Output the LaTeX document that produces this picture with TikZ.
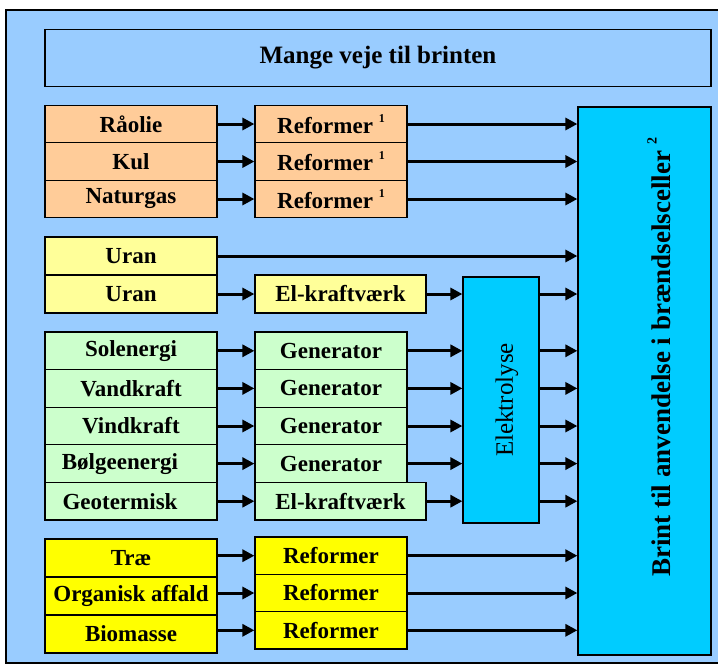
\documentclass[tikz,border=0pt]{standalone}
\usepackage{fontspec}
\setmainfont{Liberation Serif}
\usetikzlibrary{arrows.meta}
\definecolor{bgblue}{HTML}{99CCFF}
\definecolor{orng}{HTML}{FFCC99}
\definecolor{lyel}{HTML}{FFFF99}
\definecolor{lgrn}{HTML}{CCFFCC}
\definecolor{yel}{HTML}{FFFF00}
\definecolor{cyn}{HTML}{00CCFF}
\newcommand{\lblfont}{\fontsize{23}{27}\selectfont\bfseries}
\newcommand{\fnmark}[2]{\raisebox{#2}{\fontsize{#1}{#1}\selectfont\bfseries 1}}
\newcommand{\fnmarktwo}{\raisebox{14pt}{\fontsize{14}{14}\selectfont\bfseries 2}}
\begin{document}
\begin{tikzpicture}[x=1pt,y=-1pt,
  box/.style={draw=black, line width=1.2pt, inner sep=0pt, font=\lblfont},
  srcbox/.style={box, minimum width=172pt},
  procbox/.style={box, minimum width=152pt},
  widebox/.style={box, minimum width=171pt},
  arr/.style={line width=3pt, -{Triangle[length=12pt,width=12pt]}}]
\useasboundingbox (0,0) rectangle (718,664);
\draw[line width=1.2pt, fill=bgblue] (6,10) rectangle (740,663);
% title
\node[box, fill=bgblue, minimum width=666pt, minimum height=57pt, font=\fontsize{25}{30}\selectfont\bfseries] (title) at (378,58) {Mange veje til brinten};
% big box
\node[box, fill=cyn, minimum width=133pt, minimum height=548pt] (big) at (644.5,381) {};
\node[rotate=90, font=\fontsize{27}{32}\selectfont\bfseries] (bigtxt) at (659,357) {Brint til anvendelse i brændselsceller \fnmarktwo};
% orange
\node[srcbox, fill=orng, minimum height=37.7pt] (r1) at (131,124) {Råolie};
\node[srcbox, fill=orng, minimum height=37.7pt] (r2) at (131,161.5) {Kul};
\node[srcbox, fill=orng, minimum height=37.7pt] (r3) at (131,199) {Naturgas};
\node[procbox, fill=orng, minimum height=37.7pt] (f1) at (331,124) {Reformer \fnmark{12}{11pt}};
\node[procbox, fill=orng, minimum height=37.7pt] (f2) at (331,161.5) {Reformer \fnmark{12}{11pt}};
\node[procbox, fill=orng, minimum height=37.7pt] (f3) at (331,199) {Reformer \fnmark{12}{11pt}};
\foreach \i in {1,2,3}{
  \draw[arr] (r\i.east) -- (f\i.west);
  \draw[arr] (f\i.east) -- (big.west |- f\i.east);
}
% uran
\node[srcbox, fill=lyel, minimum height=38pt] (u1) at (131,256) {Uran};
\node[srcbox, fill=lyel, minimum height=38pt] (u2) at (131,294) {Uran};
\node[widebox, fill=lyel, minimum height=38pt] (ek1) at (340.5,294) {El-kraftværk};
% elektrolyse
\node[box, fill=cyn, minimum width=76pt, minimum height=246pt] (elek) at (501,400) {};
\node[rotate=90, font=\fontsize{25}{30}\selectfont] (elektxt) at (507,400) {Elektrolyse};
\draw[arr] (u1.east) -- (big.west |- u1.east);
\draw[arr] (u2.east) -- (ek1.west);
\draw[arr] (ek1.east) -- (elek.west |- ek1.east);
\draw[arr] (elek.east |- ek1.east) -- (big.west |- ek1.east);
% green
\node[srcbox, fill=lgrn, minimum height=37.6pt] (g1) at (131,350.8) {Solenergi};
\node[srcbox, fill=lgrn, minimum height=37.6pt] (g2) at (131,388.4) {Vandkraft};
\node[srcbox, fill=lgrn, minimum height=37.6pt] (g3) at (131,426) {Vindkraft};
\node[srcbox, fill=lgrn, minimum height=37.6pt] (g4) at (131,463.6) {Bølgeenergi\hspace*{22pt}};
\node[srcbox, fill=lgrn, minimum height=37.6pt] (g5) at (131,501.2) {Geotermisk\hspace*{22pt}};
\node[procbox, fill=lgrn, minimum height=37.6pt] (gen1) at (331,350.8) {Generator};
\node[procbox, fill=lgrn, minimum height=37.6pt] (gen2) at (331,388.4) {Generator};
\node[procbox, fill=lgrn, minimum height=37.6pt] (gen3) at (331,426) {Generator};
\node[procbox, fill=lgrn, minimum height=37.6pt] (gen4) at (331,463.6) {Generator};
\node[widebox, fill=lgrn, minimum height=37.6pt] (gen5) at (340.5,501.2) {El-kraftværk};
\foreach \i in {1,...,5}{
  \draw[arr] (g\i.east) -- (gen\i.west);
  \draw[arr] (gen\i.east) -- (elek.west |- gen\i.east);
  \draw[arr] (elek.east |- g\i.east) -- (big.west |- g\i.east);
}
% yellow
\node[srcbox, fill=yel, minimum height=38pt] (y1) at (131,558) {Træ};
\node[srcbox, fill=yel, minimum height=38pt] (y2) at (131,596) {Organisk affald};
\node[srcbox, fill=yel, minimum height=38pt] (y3) at (131,634) {Biomasse};
\node[procbox, fill=yel, minimum height=37.3pt] (yr1) at (331,555.7) {Reformer};
\node[procbox, fill=yel, minimum height=37.3pt] (yr2) at (331,593) {Reformer};
\node[procbox, fill=yel, minimum height=37.3pt] (yr3) at (331,630.3) {Reformer};
\foreach \i in {1,2,3}{
  \draw[arr] (y\i.east |- yr\i.west) -- (yr\i.west);
  \draw[arr] (yr\i.east) -- (big.west |- yr\i.east);
}
\end{tikzpicture}
\end{document}
